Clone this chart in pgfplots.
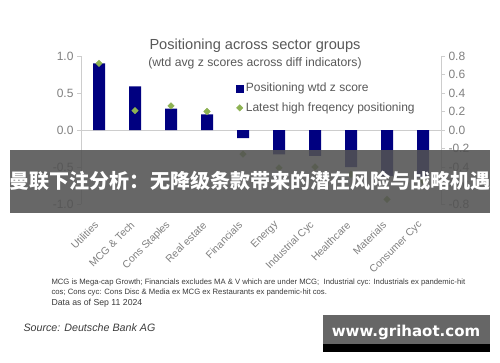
\documentclass[border=0pt]{standalone}
\usepackage{pgfplots}
\pgfplotsset{compat=1.18}
\usepackage{fontspec}
\setmainfont{Liberation Sans}
\newfontfamily\cjk{Noto Sans CJK SC}
\newfontfamily\dejavu{DejaVu Sans}
\definecolor{barblue}{RGB}{0,0,128}
\definecolor{dgreen}{RGB}{141,178,82}
\definecolor{tgray}{RGB}{89,89,89}
\definecolor{lgray}{RGB}{128,128,128}
\definecolor{axgray}{RGB}{205,205,205}
\definecolor{ngray}{RGB}{60,60,60}
\pgfplotsset{diamleg/.style={legend image code/.code={\draw[mark repeat=2,mark phase=2,##1] plot coordinates {(0bp,0bp) (3.5bp,0bp) (7bp,0bp)};}}}
\begin{document}
\begin{tikzpicture}[x=1bp,y=1bp]
\useasboundingbox (0,0) rectangle (500,362);
\fill[white] (0,0) rectangle (500,362);
\begin{axis}[
  at={(81bp,158bp)}, anchor=south west,
  width=360bp, height=148bp, scale only axis,
  xmin=-0.5, xmax=9.5, ymin=-1, ymax=1,
  axis y line*=left, axis x line*=bottom,
  x axis line style={draw=none}, y axis line style={axgray},
  xtick={0,...,9},
  xticklabels={Utilities,MCG \& Tech,Cons Staples,Real estate,Financials,Energy,Industrial Cyc,Healthcare,Materials,Consumer Cyc},
  xtick style={draw=none},
  xticklabel style={yshift=-13bp, xshift=0bp, rotate=45, anchor=east, text=lgray, font=\fontsize{10.4bp}{12bp}\selectfont},
  ytick={-1,-0.5,0,0.5,1},
  ytick style={axgray},
  tick align=outside, major tick length=4bp,
  yticklabel style={text=lgray, font=\fontsize{12bp}{14bp}\selectfont, /pgf/number format/.cd, fixed, fixed zerofill, precision=1, assume math mode=true},
  extra y ticks={0}, extra y tick labels={},
  extra y tick style={grid=major, major grid style={axgray, line width=0.6bp}, tick style={draw=none}},
  clip=false,
]
\addplot[ybar, bar width=12bp, fill=barblue, draw=none] coordinates {
(0,0.90) (1,0.59) (2,0.29) (3,0.21) (4,-0.11) (5,-0.33) (6,-0.35) (7,-0.50) (8,-0.62) (9,-0.64)};
\end{axis}
\begin{axis}[
  at={(81bp,158bp)}, anchor=south west,
  width=360bp, height=148bp, scale only axis,
  xmin=-0.5, xmax=9.5, ymin=-0.8, ymax=0.8,
  axis y line*=right, axis x line=none,
  y axis line style={axgray},
  ytick={-0.8,-0.6,-0.4,-0.2,0,0.2,0.4,0.6,0.8},
  ytick style={axgray},
  tick align=outside, major tick length=4bp,
  yticklabel style={text=lgray, font=\fontsize{12bp}{14bp}\selectfont, /pgf/number format/.cd, fixed, fixed zerofill, precision=1, assume math mode=true},
  legend style={at={(rel axis cs:0.43,0.835)}, anchor=north west, draw=none, fill=none,
    font=\fontsize{12bp}{14bp}\selectfont, text=tgray, row sep=4.5bp, inner sep=0pt,
    nodes={inner sep=2.5bp}},
  legend cell align=left,
  clip=false,
]
\addlegendimage{legend image code/.code={\fill[barblue] (0bp,-3.5bp) rectangle (7bp,3.5bp);}}
\addlegendentry{Positioning wtd z score}
\addplot[only marks, mark=square*, mark size=2.3bp, mark options={rotate=45, fill=dgreen, draw=dgreen}, dgreen, diamleg]
coordinates {(0,0.72) (1,0.21) (2,0.26) (3,0.20) (4,-0.26) (5,-0.41) (6,-0.40) (7,-0.48) (8,-0.75) (9,-0.55)};
\addlegendentry{Latest high freqency positioning}
\end{axis}
\node[text=tgray, font=\fontsize{14.6bp}{17bp}\selectfont] at (255,316) {Positioning across sector groups};
\node[text=tgray, font=\fontsize{12.2bp}{14bp}\selectfont] at (255,299) {(wtd avg z scores across diff indicators)};
\node[anchor=west, text=ngray, font=\fontsize{7.7bp}{9bp}\selectfont] at (48,79) {MCG is Mega-cap Growth; Financials excludes MA \& V which are under MCG;\ \ Industrial cyc: Industrials ex pandemic-hit};
\node[anchor=west, text=ngray, font=\fontsize{7.7bp}{9bp}\selectfont] at (48,69) {cos; Cons cyc: Cons Disc \& Media ex MCG ex Restaurants ex pandemic-hit cos.};
\node[anchor=west, text=ngray, font=\fontsize{8.7bp}{10bp}\selectfont] at (48,59) {Data as of Sep 11 2024};
\node[anchor=west, text=ngray, font=\fontsize{10.7bp}{12bp}\selectfont\itshape] at (20,34) {Source: Deutsche Bank AG};
\fill[black!68, opacity=0.88] (10,212) rectangle (490,149);
\node[text=white, font=\cjk\bfseries\fontsize{20bp}{24bp}\selectfont] at (250,181) {曼联下注分析：无降级条款带来的潜在风险与战略机遇};
\fill[black!60] (323,47) rectangle (490,18);
\fill[black] (323,18) rectangle (490,10);
\node[text=white, font=\dejavu\bfseries\fontsize{15bp}{18bp}\selectfont] at (406,29.5) {www.grihaot.com};
\end{tikzpicture}
\end{document}
